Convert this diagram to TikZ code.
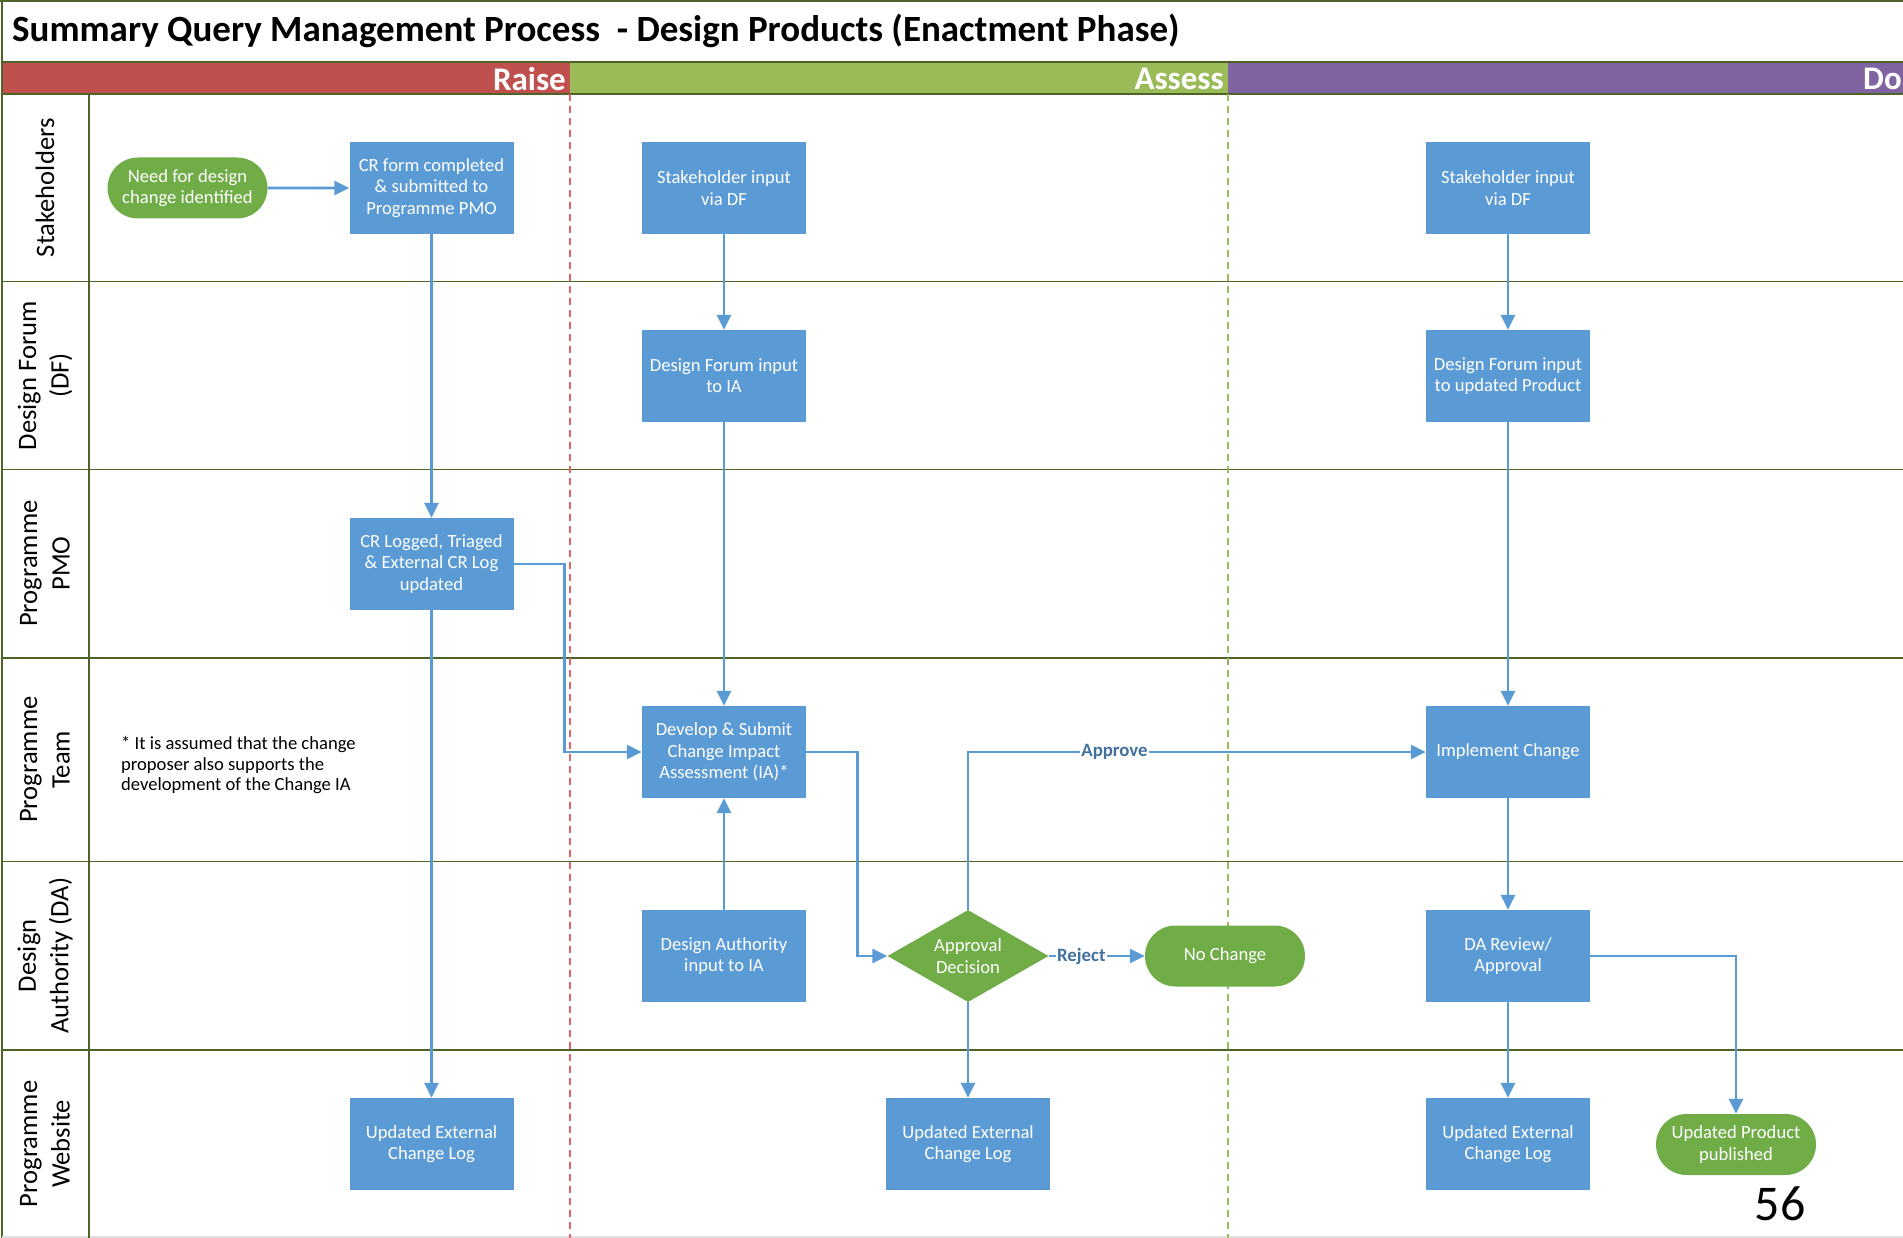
\documentclass[tikz,border=0pt]{standalone}
\usepackage{fontspec}
\setmainfont{Carlito}
\usetikzlibrary{arrows.meta,shapes.geometric,shapes.misc}

\definecolor{boxblue}{HTML}{5B9BD5}
\definecolor{linkblue}{HTML}{5B9BD5}
\definecolor{labelblue}{HTML}{41719C}
\definecolor{termgreen}{HTML}{70AD47}
\definecolor{raisered}{HTML}{C0504D}
\definecolor{assessgreen}{HTML}{9BBB59}
\definecolor{dopurple}{HTML}{8064A2}
\definecolor{laneline}{HTML}{4F6228}
\definecolor{sepred}{HTML}{E06666}
\definecolor{sepgreen}{HTML}{9BBB59}

\tikzset{
  proc/.style={rectangle, fill=boxblue, text=white, minimum width=164pt,
    minimum height=92pt, align=center, inner sep=2pt,
    font=\fontsize{18.6}{21.3}\selectfont},
  term/.style={rounded rectangle, fill=termgreen, text=white, minimum width=164pt,
    minimum height=61pt, align=center, inner sep=2pt,
    font=\fontsize{18.6}{21.3}\selectfont},
  decision/.style={diamond, fill=termgreen, text=white, minimum width=161pt,
    minimum height=92pt, aspect=1.75, align=center, inner sep=0pt,
    font=\fontsize{18.6}{21.3}\selectfont},
  flow/.style={draw=linkblue, line width=2.8pt, line join=miter,
    -{Triangle[length=15pt,width=14pt]}},
  flowlabel/.style={fill=white, text=labelblue, inner sep=1pt,
    font=\fontsize{18.8}{21}\selectfont\bfseries},
  lanelabel/.style={rotate=90, align=center, text=black,
    font=\fontsize{26.6}{32.5}\selectfont},
  phaselabel/.style={text=white, inner sep=2pt,
    font=\fontsize{33}{34}\selectfont\bfseries},
  laneedge/.style={draw=laneline, line width=1.5pt},
}

\begin{document}
\begin{tikzpicture}[x=1pt, y=-1pt]
  % page area
  \fill[white] (0,0) rectangle (1903,1238);
  \useasboundingbox (0,0) rectangle (1903,1238);
  \begin{scope}
  \clip (0,0) rectangle (1903,1238);

  % title
  \node[anchor=west, inner sep=0pt, font=\fontsize{37}{42}\selectfont\bfseries]
    (title) at (12,31) {Summary Query Management Process\ \ - Design Products (Enactment Phase)};

  % phase band
  \fill[raisered] (2,62) rectangle (570,94);
  \fill[assessgreen] (570,62) rectangle (1228,94);
  \fill[dopurple] (1228,62) rectangle (1903,94);
  \node[phaselabel, anchor=east] (raise) at (568,79) {Raise};
  \node[phaselabel, anchor=east] (assess) at (1226,79) {Assess};
  \node[phaselabel, anchor=west] (do) at (1861,79) {Do};

  % frame and lane boundaries
  \draw[laneedge] (0,1) -- (1903,1);
  \draw[laneedge] (2,0) -- (2,1238);
  \draw[laneedge] (2,62) -- (1903,62);
  \foreach \y in {94,281.6,469.7,657.8,861.7,1049.8}
    \draw[laneedge] (2,\y) -- (1903,\y);
  \draw[draw=black!12, line width=1.5pt] (2,1237) -- (1903,1237);
  \draw[laneedge] (89,94) -- (89,1238);

  % phase separators
  \draw[sepred, line width=1.5pt, dash pattern=on 7pt off 5pt] (570,94) -- (570,1238);
  \draw[sepgreen, line width=1.5pt, dash pattern=on 7pt off 5pt] (1228,94) -- (1228,1238);

  % lane names
  \node[lanelabel] (l1) at (45,187.8) {Stakeholders};
  \node[lanelabel] (l2) at (45,375.6) {Design Forum\\(DF)};
  \node[lanelabel] (l3) at (45,563.7) {Programme\\PMO};
  \node[lanelabel] (l4) at (45,759.7) {Programme\\Team};
  \node[lanelabel] (l5) at (45,955.7) {Design\\Authority (DA)};
  \node[lanelabel] (l6) at (45,1143.9) {Programme\\Website};

  % footnote
  \node[anchor=west, align=left, inner sep=0pt, text=black,
        font=\fontsize{18.6}{20.8}\selectfont] (note) at (121,765)
    {* It is assumed that the change\\proposer also supports the\\development of the Change IA};

  % Raise
  \node[term] (need) at (187.5,188) {Need for design\\change identified};
  \node[proc] (crform) at (431.5,188) {CR form completed\\\& submitted to\\Programme PMO};
  \node[proc] (crlog) at (431.5,564) {CR Logged, Triaged\\\& External CR Log\\updated};
  \node[proc] (extlog1) at (431.5,1144) {Updated External\\Change Log};

  % Assess
  \node[proc] (stake1) at (724,188) {Stakeholder input\\via DF};
  \node[proc] (df1) at (724,376) {Design Forum input\\to IA};
  \node[proc] (develop) at (724,752) {Develop \& Submit\\Change Impact\\Assessment (IA)*};
  \node[proc] (dainput) at (724,956) {Design Authority\\input to IA};
  \node[decision] (approval) at (968,956) {Approval\\Decision};
  \node[term] (nochange) at (1225,956) {No Change};
  \node[proc] (extlog2) at (968,1144) {Updated External\\Change Log};

  % Do
  \node[proc] (stake2) at (1508,188) {Stakeholder input\\via DF};
  \node[proc] (df2) at (1508,376) {Design Forum input\\to updated Product};
  \node[proc] (implement) at (1508,752) {Implement Change};
  \node[proc] (dareview) at (1508,956) {DA Review/\\Approval};
  \node[proc] (extlog3) at (1508,1144) {Updated External\\Change Log};
  \node[term] (published) at (1736,1144.5) {Updated Product\\published};

  % page number
  \node[text=black, inner sep=0pt, font=\fontsize{50}{54}\selectfont] (page) at (1780,1204) {56};

  % connectors
  \draw[flow] (need) -- (crform);
  \draw[flow] (crform) -- (crlog);
  \draw[flow] (crlog) -- (extlog1);
  \draw[flow] (crlog.east) -- ++(51,0) |- (develop.west);
  \draw[flow] (stake1) -- (df1);
  \draw[flow] (df1) -- (develop);
  \draw[flow] (dainput) -- (develop);
  \draw[flow] (develop.east) -- ++(51,0) |- (approval.west);
  \draw[flow] (approval.north) |- node[flowlabel, pos=0.66] (approve) {Approve} (implement.west);
  \draw[flow] (approval.east) -- node[flowlabel, pos=0.34] (reject) {Reject} (nochange.west);
  \draw[flow] (approval) -- (extlog2);
  \draw[flow] (stake2) -- (df2);
  \draw[flow] (df2) -- (implement);
  \draw[flow] (implement) -- (dareview);
  \draw[flow] (dareview) -- (extlog3);
  \draw[flow] (dareview.east) -| (published.north);
  \end{scope}
\end{tikzpicture}
\end{document}
